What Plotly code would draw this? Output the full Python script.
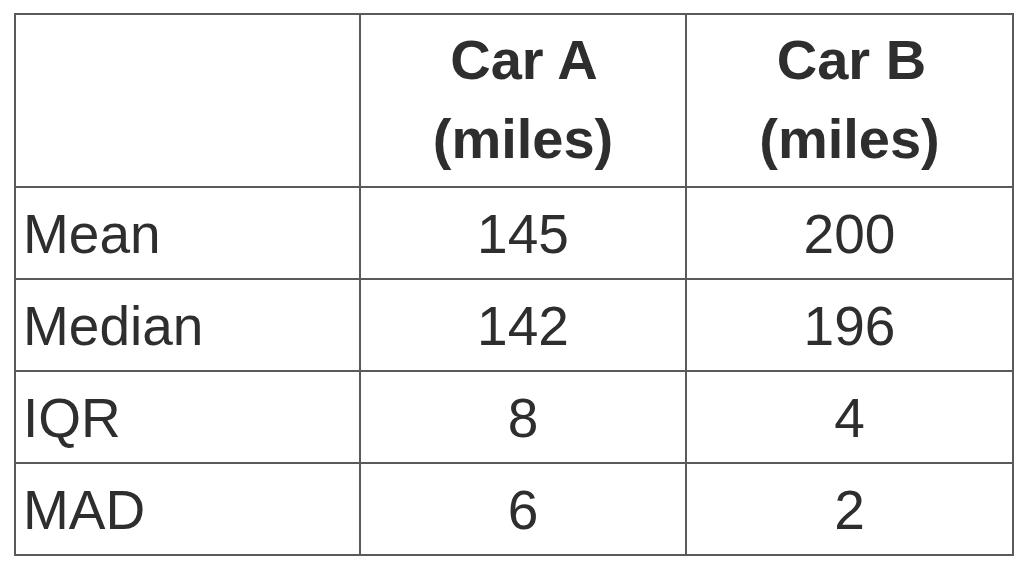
import plotly.graph_objects as go

# table contents
header_labels = ["", "<b>Car A</b><br><b>(miles)</b>", "<b>Car B</b><br><b>(miles)</b>"]
stat_names = ["Mean", "Median", "IQR", "MAD"]
car_a = [145, 142, 8, 6]
car_b = [200, 196, 4, 2]

W, H = 1036, 574
line_col = "#5a5a5a"
text_col = "#2e2e2e"


def big(txt, size):
    return "<br>".join(f"<span style='font-size:{size}px'>{part}</span>"
                       for part in str(txt).split("<br>"))


def head(txt):
    # tall blank in front of the first line: nudges text down and centres "Car A" over "(miles)"
    if not txt:
        return txt
    return "<span style='font-size:63px'>&nbsp;</span>" + big(txt, 56)


def cell(v):
    # small blank line on top: plotly tables have no vertical centring
    return "&nbsp;<br>" + big(v, 55)


fig = go.Figure()
fig.add_trace(go.Table(
    domain=dict(x=[7 / W, 1006 / W], y=[0, 1 - 6 / H]),
    columnwidth=[345, 326, 327],
    header=dict(values=[head(h) for h in header_labels],
                align="center",
                height=173,
                line=dict(color=line_col, width=2),
                fill_color="white",
                font=dict(family="Liberation Sans", size=61, color=text_col)),
    cells=dict(values=[[cell(v) for v in col] for col in [stat_names, car_a, car_b]],
               align=["left", "center", "center"],
               height=92,
               line=dict(color=line_col, width=2),
               fill_color="white",
               font=dict(family="Liberation Sans", size=26, color=text_col)),
))

fig.update_layout(width=W, height=H,
                  margin=dict(l=0, r=0, t=0, b=0),
                  paper_bgcolor="white")

fig.write_html("out.html")
